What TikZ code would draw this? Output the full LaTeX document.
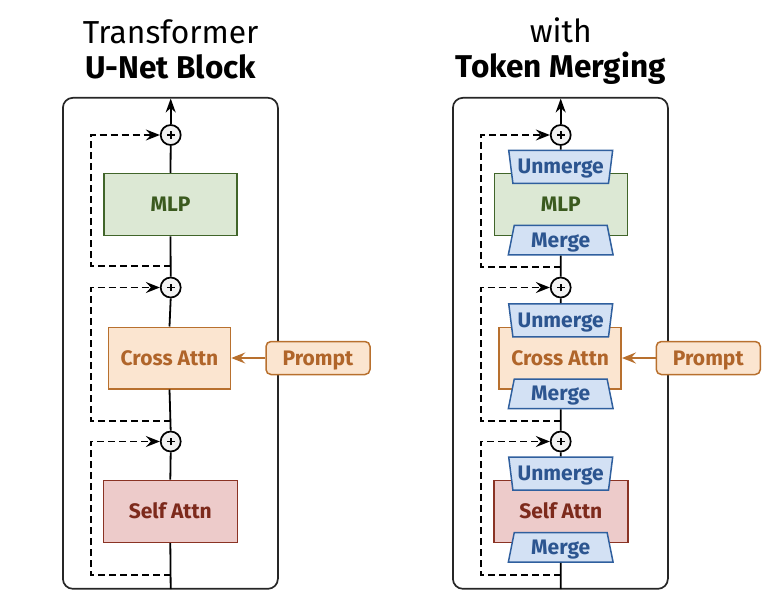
\documentclass[tikz,border=0pt]{standalone}
\usepackage{fontspec}
\setmainfont{Fira Sans}
\usetikzlibrary{arrows.meta,shapes.geometric}
\definecolor{mlpfill}{HTML}{DCE8D4}
\definecolor{mlpdraw}{HTML}{41652A}
\definecolor{mlptext}{HTML}{3B5A1F}
\definecolor{crossfill}{HTML}{FBE5D0}
\definecolor{crossdraw}{HTML}{B8702E}
\definecolor{crosstext}{HTML}{B0652A}
\definecolor{selffill}{HTML}{EDCBCA}
\definecolor{selfdraw}{HTML}{8A3324}
\definecolor{selftext}{HTML}{7D2A1C}
\definecolor{mrgfill}{HTML}{D3E1F4}
\definecolor{mrgdraw}{HTML}{2F5F9E}
\definecolor{mrgtext}{HTML}{2C5590}
\definecolor{plusfill}{HTML}{F2F2F2}
\tikzset{
  panel/.style={draw=black!85, line width=1.7pt, rounded corners=10pt, minimum width=215pt, minimum height=491pt, inner sep=0pt},
  ttl/.style={anchor=base, inner sep=0pt, font=\fontsize{31.8}{36}\selectfont},
  ttlb/.style={ttl, font=\fontsize{31.5}{36}\selectfont\bfseries},
  blk/.style={line width=1.5pt, inner sep=0pt, text height=14pt, text depth=0pt, font=\fontsize{21}{24}\selectfont\bfseries},
  mlp/.style={blk, draw=mlpdraw, fill=mlpfill, text=mlptext, minimum width=133pt, minimum height=62pt},
  cross/.style={blk, draw=crossdraw, fill=crossfill, text=crosstext, minimum width=122pt, minimum height=61.5pt},
  selfa/.style={blk, draw=selfdraw, fill=selffill, text=selftext, minimum width=134pt, minimum height=62pt},
  prompt/.style={blk, draw=crossdraw, fill=crossfill, text=crosstext, minimum width=104pt, minimum height=33pt, rounded corners=5pt},
  trap/.style={blk, shape=trapezium, trapezium stretches=true, draw=mrgdraw, fill=mrgfill, text=mrgtext, minimum width=105pt, trapezium left angle=75, trapezium right angle=75},
  unm/.style={trap, minimum height=33pt, shape border rotate=180},
  mrg/.style={trap, minimum height=29.5pt},
  plus/.style={circle, draw=black, fill=plusfill, line width=1.7pt, minimum size=20pt, inner sep=0pt,
    path picture={\draw[line width=1.8pt]
      ([xshift=-3.8pt]path picture bounding box.center) -- ([xshift=3.8pt]path picture bounding box.center)
      ([yshift=-3.8pt]path picture bounding box.center) -- ([yshift=3.8pt]path picture bounding box.center);}},
  flow/.style={line width=1.8pt, draw=black},
  skip/.style={line width=1.7pt, dash pattern=on 7pt off 4pt, -{Stealth[length=14pt,width=11pt,inset=5pt,sep=0pt]}},
  pin/.style={line width=1.8pt, draw=crossdraw, -{Stealth[length=14pt,width=11pt,inset=5pt]}},
  outarrow/.style={line width=1.8pt, -{Stealth[length=14pt,width=10pt,inset=4.5pt]}}
}
\begin{document}
\begin{tikzpicture}[x=1pt,y=-1pt]
\useasboundingbox (0,0) rectangle (774,600);
% ---------- left panel ----------
\node[ttl] (tL1) at (170.7,43) {Transformer};
\node[ttlb] (tL2) at (170.7,78) {U-Net Block};
\node[panel] (pL) at (170.4,343.3) {};
\node[plus] (aL1) at (170.7,135) {};
\node[plus] (aL2) at (170.7,287.5) {};
\node[plus] (aL3) at (170.7,441.5) {};
\node[mlp] (mlpL) at (170.5,204.5) {MLP};
\node[cross] (crossL) at (169.5,358) {Cross Attn};
\node[selfa] (selfL) at (170.3,511.3) {Self Attn};
\node[prompt] (prL) at (318,358) {Prompt};
\coordinate (bL1) at (170.7,266);
\coordinate (bL2) at (170.7,420.7);
\coordinate (bL3) at (170.7,575);
\coordinate (inL) at (170.7,589);
\coordinate (outL) at (170.7,98.5);
\draw[flow] (inL) -- (selfL.south);
\draw[flow] (selfL.north) -- (aL3.south);
\draw[flow] (aL3.north) -- (crossL.south);
\draw[flow] (crossL.north) -- (aL2.south);
\draw[flow] (aL2.north) -- (mlpL.south);
\draw[flow] (mlpL.north) -- (aL1.south);
\draw[outarrow] (aL1.north) -- (outL);
\draw[skip] (bL3) -- ++(-80,0) |- (aL3.west);
\draw[skip] (bL2) -- ++(-80,0) |- (aL2.west);
\draw[skip] (bL1) -- ++(-80,0) |- (aL1.west);
\draw[pin] (prL.west) -- (crossL.east);
% ---------- right panel ----------
\node[ttl] (tR1) at (560.7,42) {with};
\node[ttlb] (tR2) at (560.7,77) {Token Merging};
\node[panel] (pR) at (560.4,343.3) {};
\node[plus] (aR1) at (560.7,135) {};
\node[plus] (aR2) at (560.7,287.5) {};
\node[plus] (aR3) at (560.7,441.5) {};
\node[mlp] (mlpR) at (560.8,204.5) {\phantom{MLP}};
\node[cross] (crossR) at (560.2,358) {\phantom{Cross Attn}};
\node[selfa] (selfR) at (560.8,511.3) {\phantom{Self Attn}};
\node[blk, text=mlptext] (mlpRt) at (560.8,204.5) {MLP};
\node[blk, text=crosstext] (crossRt) at (560.2,358) {Cross Attn};
\node[blk, text=selftext] (selfRt) at (560.8,511.3) {Self Attn};
\node[unm] (u1) at (560.7,166.8) {Unmerge};
\node[mrg] (m1) at (560.7,240) {Merge};
\node[unm] (u2) at (560.7,320.3) {Unmerge};
\node[mrg] (m2) at (560.7,393.8) {Merge};
\node[unm] (u3) at (560.7,473.6) {Unmerge};
\node[mrg] (m3) at (560.7,547.3) {Merge};
\node[prompt] (prR) at (708.3,358) {Prompt};
\coordinate (bR1) at (560.7,266.7);
\coordinate (bR2) at (560.7,420.7);
\coordinate (bR3) at (560.7,575);
\coordinate (inR) at (560.7,589);
\coordinate (outR) at (560.7,98.5);
\draw[flow] (inR) -- (m3.south);
\draw[flow] (u3.north) -- (aR3.south);
\draw[flow] (aR3.north) -- (m2.south);
\draw[flow] (u2.north) -- (aR2.south);
\draw[flow] (aR2.north) -- (m1.south);
\draw[flow] (u1.north) -- (aR1.south);
\draw[outarrow] (aR1.north) -- (outR);
\draw[skip] (bR3) -- ++(-80,0) |- (aR3.west);
\draw[skip] (bR2) -- ++(-80,0) |- (aR2.west);
\draw[skip] (bR1) -- ++(-80,0) |- (aR1.west);
\draw[pin] (prR.west) -- (crossR.east);
\end{tikzpicture}
\end{document}
